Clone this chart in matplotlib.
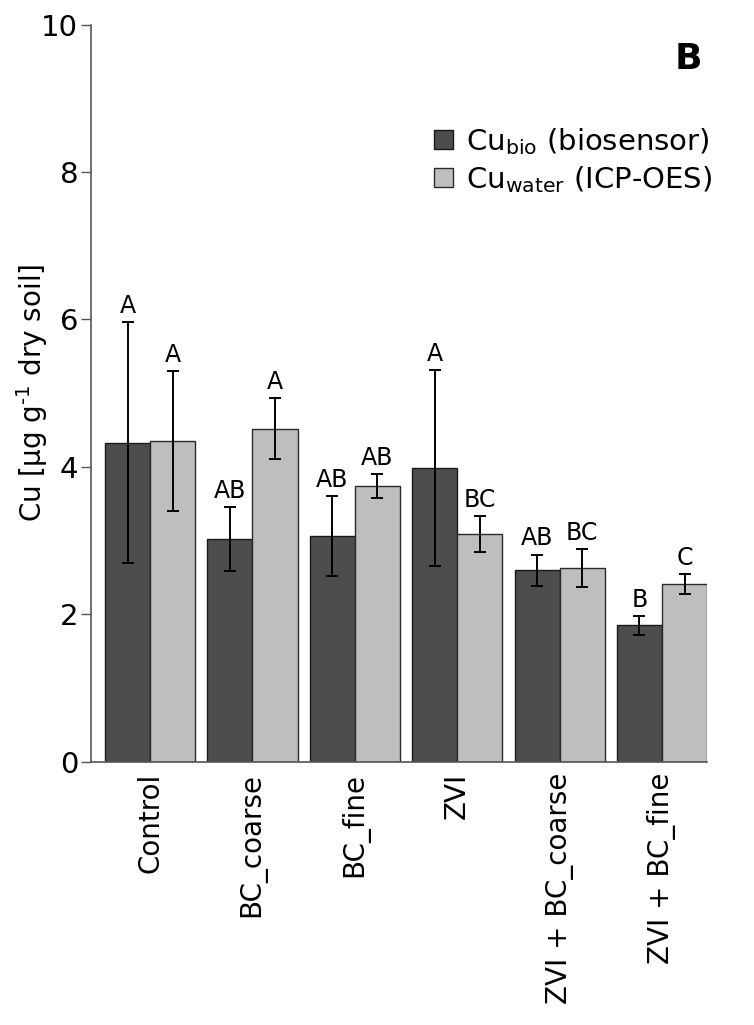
import numpy as np
import matplotlib
matplotlib.use("Agg")
import matplotlib.pyplot as plt

treatments = ["Control", "BC_coarse", "BC_fine", "ZVI", "ZVI + BC_coarse", "ZVI + BC_fine"]
cu_bio = [4.33, 3.02, 3.06, 3.98, 2.60, 1.85]
cu_bio_err = [1.64, 0.43, 0.54, 1.33, 0.21, 0.13]
cu_water = [4.35, 4.52, 3.74, 3.09, 2.63, 2.41]
cu_water_err = [0.95, 0.41, 0.16, 0.24, 0.26, 0.13]
bio_letters = ["A", "AB", "AB", "A", "AB", "B"]
water_letters = ["A", "A", "AB", "BC", "BC", "C"]
yticks = [0, 2, 4, 6, 8, 10]

plt.rcParams["font.family"] = ["DejaVu Sans"]
plt.rcParams["mathtext.fontset"] = "dejavusans"

fig = plt.figure(figsize=(7.54, 10.25), dpi=100)
ax = fig.add_axes([0.1203, 0.2569, 0.8174, 0.719])

x = np.arange(len(treatments))
w = 0.44
dark = "#4d4d4d"
light = "#bebebe"

b1 = ax.bar(x - w / 2, cu_bio, w, color=dark, edgecolor="#1a1a1a", linewidth=1.0,
            label=r"Cu$_{\mathrm{bio}}$ (biosensor)")
b2 = ax.bar(x + w / 2, cu_water, w, color=light, edgecolor="#2a2a2a", linewidth=1.0,
            label=r"Cu$_{\mathrm{water}}$ (ICP-OES)")
ax.errorbar(x - w / 2, cu_bio, yerr=cu_bio_err, fmt="none", ecolor="black",
            elinewidth=1.4, capsize=4.5, capthick=1.4)
ax.errorbar(x + w / 2, cu_water, yerr=cu_water_err, fmt="none", ecolor="black",
            elinewidth=1.4, capsize=4.5, capthick=1.4)

for xi, v, e, lab in zip(x - w / 2, cu_bio, cu_bio_err, bio_letters):
    ax.annotate(lab, (xi, v + e), xytext=(0, 3), textcoords="offset points",
                ha="center", va="bottom", fontsize=17)
for xi, v, e, lab in zip(x + w / 2, cu_water, cu_water_err, water_letters):
    ax.annotate(lab, (xi, v + e), xytext=(0, 3), textcoords="offset points",
                ha="center", va="bottom", fontsize=17)

ax.set_xlim(-0.58, 5.44)
ax.set_ylim(0, 10)
ax.set_yticks(yticks)
ax.set_yticklabels([str(t) for t in yticks], fontsize=21)
ax.set_xticks(x)
ax.set_xticklabels(treatments, rotation=90, fontsize=20, va="top")
ax.tick_params(axis="x", length=0, pad=8)
ax.tick_params(axis="y", length=7, width=1.0, color="#555555", pad=2)

for s in ["top", "right"]:
    ax.spines[s].set_visible(False)
for s in ["left", "bottom"]:
    ax.spines[s].set_color("#555555")
    ax.spines[s].set_linewidth(1.2)

ax.set_ylabel("Cu [µg g$^{\u2010\\mathrm{1}}$ dry soil]", fontsize=20)
ax.yaxis.set_label_coords(-0.066, 0.5)

fig.legend(handles=[b1, b2], loc="upper left", bbox_to_anchor=(434 / 754, 1 - 126 / 1025),
           frameon=False, fontsize=21, handlelength=0.65, handleheight=0.65,
           handletextpad=0.45, labelspacing=0.24, borderpad=0, borderaxespad=0)

fig.text(688 / 754, 1 - 59 / 1025, "B", fontsize=26, fontweight="bold",
         ha="center", va="center")

fig.savefig("out.png", dpi=100)
